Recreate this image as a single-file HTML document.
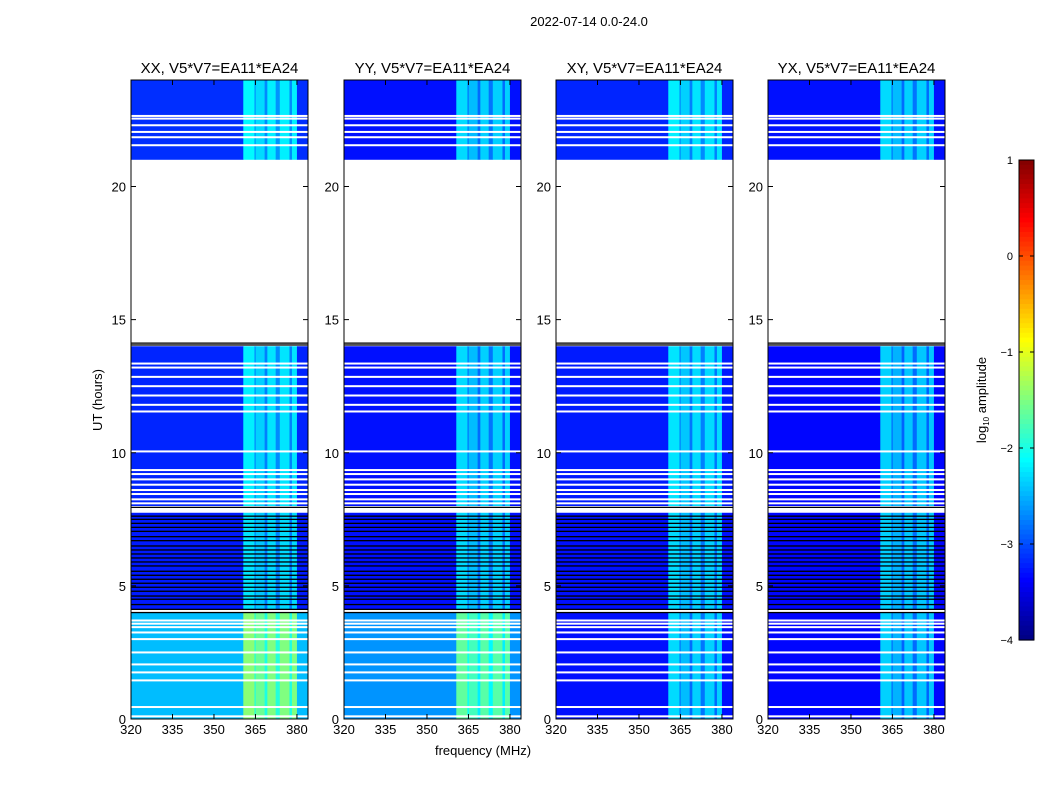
<!DOCTYPE html>
<html><head><meta charset="utf-8"><style>
body{margin:0;background:#fff;}
svg text{font-family:"Liberation Sans",sans-serif;fill:#000;}
</style></head><body>
<svg id="chart" width="1050" height="800" xmlns="http://www.w3.org/2000/svg">
<rect width="1050" height="800" fill="#fff"/>
<text x="589" y="26" font-size="13" text-anchor="middle">2022-07-14 0.0-24.0</text>
<text x="483" y="755" font-size="13" text-anchor="middle">frequency (MHz)</text>
<text transform="translate(102,400) rotate(-90)" font-size="13" text-anchor="middle">UT (hours)</text>
<g id="panels"></g>
<g id="cbar"></g>
<text transform="translate(986,400) rotate(-90)" font-size="13" text-anchor="middle">log<tspan font-size="8" dy="3">10</tspan><tspan dy="-3"> amplitude</tspan></text>
</svg>
<script>
const panelTitles=["XX, V5*V7=EA11*EA24","YY, V5*V7=EA11*EA24","XY, V5*V7=EA11*EA24","YX, V5*V7=EA11*EA24"];
const freqEdges=[320,360.6,364.6,365.2,368.3,369.3,372.3,373.8,377.3,378.2,380,384];
const bandBoost=[0,1.0,0.6,0.85,0.45,0.95,0.5,0.95,0.45,0.95,0];
const segStart=[0,4.1,8.0,21.0];
const segEnd=[4.0,7.75,14.0,24.0];
const baseXX=[-2.45,-3.25,-3.2,-3.15];
const baseYY=[-2.65,-3.3,-3.3,-3.3];
const baseXY=[-3.3,-3.3,-3.25,-3.2];
const baseYX=[-3.35,-3.35,-3.35,-3.3];
const bases=[baseXX,baseYY,baseXY,baseYX];
const whiteLines=[0.1,0.45,1.45,1.75,2.05,2.5,3.0,3.25,3.45,3.58,3.7,8.1,8.25,8.45,8.6,8.8,9.0,9.2,9.35,10.05,11.55,11.8,12.15,12.5,12.85,13.2,13.35,21.55,21.85,22.05,22.3,22.55,22.65];
const blackLines=[4.0,4.12,4.3,4.5,4.62,4.8,4.95,5.1,5.25,5.4,5.55,5.75,5.9,6.05,6.2,6.35,6.5,6.7,6.85,7.05,7.2,7.35,7.5,7.62,7.95,14.05,14.12];
const whiteGaps=[[7.75,7.92],[14.15,21.0]];
const xTicks=[320,335,350,365,380];
const yTicks=[0,5,10,15,20];
const cbTicks=[1,0,-1,-2,-3,-4];
const panelLeft=[131,344,556,768];
const PW=177,TOP=80,BOT=719;
const NS="http://www.w3.org/2000/svg";
function jet(v){let t=(v+4)/5;t=Math.max(0,Math.min(1,t));
 const r=Math.max(0,Math.min(1,1.5-Math.abs(4*t-3))),g=Math.max(0,Math.min(1,1.5-Math.abs(4*t-2))),b=Math.max(0,Math.min(1,1.5-Math.abs(4*t-1)));
 return `rgb(${Math.round(r*255)},${Math.round(g*255)},${Math.round(b*255)})`;}
function el(tag,attrs,parent){const e=document.createElementNS(NS,tag);for(const k in attrs)e.setAttribute(k,attrs[k]);parent.appendChild(e);return e;}
const yS=h=>BOT-h*(BOT-TOP)/24;
const root=document.getElementById('panels');
panelLeft.forEach((L,p)=>{
 const xS=f=>L+(f-320)*PW/64;
 const g=el('g',{},root);
 
 
 segStart.forEach((s,si)=>{
  for(let b=0;b<freqEdges.length-1;b++){
   const r=el('rect',{x:xS(freqEdges[b]),y:yS(segEnd[si]),width:xS(freqEdges[b+1])-xS(freqEdges[b])+0.3,height:yS(segStart[si])-yS(segEnd[si]),fill:jet(bases[p][si]+bandBoost[b])},g);
   
   
  }});
 whiteLines.forEach(h=>{const r=el('rect',{x:L,y:yS(h)-1,width:PW,height:2,fill:'#fff'},g);
  
  });
 blackLines.forEach(h=>{const r=el('rect',{x:L,y:yS(h)-0.6,width:PW,height:1.3,fill:'#000'},g);
  
  });
 whiteGaps.forEach(w=>{const r=el('rect',{x:L,y:yS(w[1]),width:PW,height:yS(w[0])-yS(w[1]),fill:'#fff'},g);
  
  });
 el('rect',{x:L,y:TOP,width:PW,height:BOT-TOP,fill:'none',stroke:'#000','stroke-width':1},g);
 const t=el('text',{x:L+PW/2,y:TOP-7,'font-size':15,'text-anchor':'middle'},g);t.textContent=panelTitles[p];
 
 
 xTicks.forEach(f=>{const x=xS(f);el('line',{x1:x,x2:x,y1:BOT,y2:BOT-5,stroke:'#000'},g);el('line',{x1:x,x2:x,y1:TOP,y2:TOP+5,stroke:'#000'},g);
  const tx=el('text',{x:x,y:BOT+15,'font-size':13,'text-anchor':'middle'},g);tx.textContent=f;
  
  });
 yTicks.forEach(h=>{const y=yS(h);el('line',{x1:L,x2:L+5,y1:y,y2:y,stroke:'#000'},g);el('line',{x1:L+PW,x2:L+PW-5,y1:y,y2:y,stroke:'#000'},g);
  const tx=el('text',{x:L-5,y:y+5,'font-size':13,'text-anchor':'end'},g);tx.textContent=h;
  
  });
});
const cb=document.getElementById('cbar');
const CX=1019,CW=15,CT=160,CB=640;
for(let i=0;i<100;i++){const v1=1-5*i/100;el('rect',{x:CX,y:CT+i*(CB-CT)/100,width:CW,height:(CB-CT)/100+0.6,fill:jet(v1-0.025)},cb);}
el('rect',{x:CX,y:CT,width:CW,height:CB-CT,fill:'none',stroke:'#000'},cb);
cbTicks.forEach(v=>{const y=CT+(1-v)*(CB-CT)/5;el('line',{x1:CX,x2:CX+4,y1:y,y2:y,stroke:'#000'},cb);el('line',{x1:CX+CW,x2:CX+CW-4,y1:y,y2:y,stroke:'#000'},cb);
 const tx=el('text',{x:1013,y:y+4,'font-size':11,'text-anchor':'end'},cb);tx.textContent=v<0?'\u2212'+(-v):v;
 
 });
</script>
</body></html>
